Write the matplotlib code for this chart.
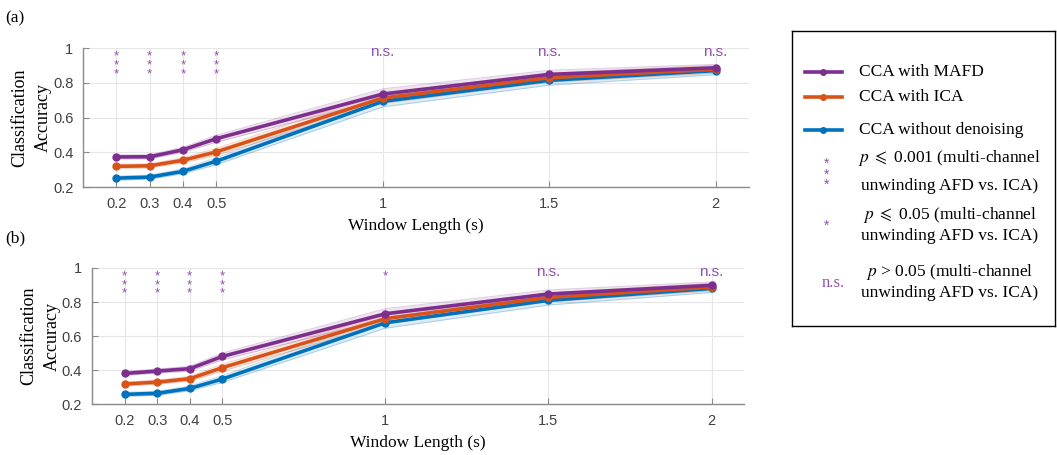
import numpy as np
import matplotlib
matplotlib.use('Agg')
import matplotlib.pyplot as plt
from matplotlib.lines import Line2D

plt.rcParams['mathtext.fontset'] = 'stix'

# Data
win = [0.2, 0.3, 0.4, 0.5, 1.0, 1.5, 2.0]
xticks = [0.2, 0.3, 0.4, 0.5, 1, 1.5, 2]
yticks = [0.2, 0.4, 0.6, 0.8, 1]

# panel (a)
a_mafd = [0.373, 0.374, 0.414, 0.478, 0.735, 0.848, 0.886]
a_ica = [0.319, 0.322, 0.354, 0.402, 0.712, 0.829, 0.878]
a_raw = [0.251, 0.257, 0.290, 0.348, 0.693, 0.814, 0.870]
a_sig = ['***', '***', '***', '***', 'n.s.', 'n.s.', 'n.s.']

# panel (b)
b_mafd = [0.380, 0.394, 0.408, 0.480, 0.731, 0.847, 0.898]
b_ica = [0.318, 0.329, 0.349, 0.414, 0.702, 0.827, 0.888]
b_raw = [0.257, 0.263, 0.292, 0.347, 0.678, 0.810, 0.880]
b_sig = ['***', '***', '***', '***', '*', 'n.s.', 'n.s.']

# shaded error bands (half widths)
err_mafd = [0.012, 0.012, 0.014, 0.020, 0.030, 0.024, 0.020]
err_ica = [0.012, 0.012, 0.014, 0.020, 0.030, 0.026, 0.022]
err_raw = [0.012, 0.012, 0.014, 0.020, 0.032, 0.028, 0.024]

names = ['CCA with MAFD', 'CCA with ICA', 'CCA without denoising']
colors = ['#7E2F8E', '#D95319', '#0072BD']
star_col = '#9050B0'

serif = ['Liberation Serif', 'DejaVu Serif']
sans = ['Liberation Sans', 'DejaVu Sans']

fig = plt.figure(figsize=(10.57, 4.55), dpi=100)
ax_a = fig.add_axes([0.0785, 0.589, 0.630, 0.3055])
ax_b = fig.add_axes([0.087, 0.112, 0.617, 0.299])


def draw_panel(ax, series, sig):
    for ys, err, c in zip(series, [err_mafd, err_ica, err_raw], colors):
        ys = np.array(ys)
        err = np.array(err)
        ax.fill_between(win, ys - err, ys + err, color=c, alpha=0.13, lw=0)
        ax.plot(win, ys - err, color=c, alpha=0.25, lw=0.7)
        ax.plot(win, ys + err, color=c, alpha=0.25, lw=0.7)
    # raw first, then ica, then mafd on top
    for ys, c in list(zip(series, colors))[::-1]:
        ax.plot(win, ys, color=c, lw=2.6, marker='o', ms=5)
    for x, s in zip(win, sig):
        if s == 'n.s.':
            ax.text(x, 0.975, s, ha='center', va='center', color=star_col,
                    fontsize=11, family=sans)
        else:
            ax.text(x, 0.985, '\n'.join(s), ha='center', va='top', color=star_col,
                    fontsize=9.5, family=sans, linespacing=0.63)
    ax.set_xlim(0.1, 2.1)
    ax.set_ylim(0.2, 1.0)
    ax.set_xticks(xticks)
    ax.set_xticklabels([str(t) for t in xticks])
    ax.set_yticks(yticks)
    ax.set_yticklabels(['0.2', '0.4', '0.6', '0.8', '1'])
    ax.grid(True, color='#e6e6e6', lw=0.8)
    ax.set_axisbelow(True)
    for sp in ['top', 'right']:
        ax.spines[sp].set_visible(False)
    for sp in ['left', 'bottom']:
        ax.spines[sp].set_color('#8a8a8a')
        ax.spines[sp].set_linewidth(1.0)
    ax.tick_params(direction='in', length=4, colors='#8a8a8a', labelcolor='#404040',
                   labelsize=10.5, pad=7)
    for lab in ax.get_xticklabels() + ax.get_yticklabels():
        lab.set_family(sans)
    ax.set_xlabel('Window Length (s)', family=serif, fontsize=12.5, labelpad=5)
    ax.set_ylabel('Classification\nAccuracy', family=serif, fontsize=13,
                  labelpad=1, linespacing=1.5)


draw_panel(ax_a, [a_mafd, a_ica, a_raw], a_sig)
draw_panel(ax_b, [b_mafd, b_ica, b_raw], b_sig)

fig.text(0.005, 0.96, '(a)', family=serif, fontsize=12.5, va='center')
fig.text(0.005, 0.477, '(b)', family=serif, fontsize=12.5, va='center')

# legend box
lg = fig.add_axes([0.749, 0.2835, 0.249, 0.648])
lg.set_xlim(0, 263)
lg.set_ylim(295, 0)
lg.set_xticks([])
lg.set_yticks([])
for sp in lg.spines.values():
    sp.set_color('black')
    sp.set_linewidth(1.0)

for i, (nm, c) in enumerate(zip(names, colors)):
    yy = [41, 66, 99][i]
    lg.add_line(Line2D([13, 50], [yy, yy], color=c, lw=2.6))
    lg.plot([31.5], [yy], 'o', color=c, ms=4)
    lg.text(67, yy, nm, family=serif, fontsize=12.5, va='center')

lg.text(35, 126, '*\n*\n*', color=star_col, fontsize=10, family=sans,
        ha='center', va='top', linespacing=0.68)
lg.text(158, 127, r'$p\ \leqslant$' + ' 0.001 (multi-channel', family=serif,
        fontsize=12.5, ha='center', va='center')
lg.text(158, 155, 'unwinding AFD vs. ICA)', family=serif, fontsize=12.5,
        ha='center', va='center')
lg.text(35, 195, '*', color=star_col, fontsize=10, family=sans, ha='center', va='center')
lg.text(158, 184, r'$p\ \leqslant$' + ' 0.05 (multi-channel', family=serif,
        fontsize=12.5, ha='center', va='center')
lg.text(158, 205, 'unwinding AFD vs. ICA)', family=serif, fontsize=12.5,
        ha='center', va='center')
lg.text(42, 252, 'n.s.', color=star_col, fontsize=12, family=serif, ha='center', va='center')
lg.text(158, 241, r'$p$' + ' > 0.05 (multi-channel', family=serif,
        fontsize=12.5, ha='center', va='center')
lg.text(158, 262, 'unwinding AFD vs. ICA)', family=serif, fontsize=12.5,
        ha='center', va='center')

fig.savefig('out.png', dpi=100)
